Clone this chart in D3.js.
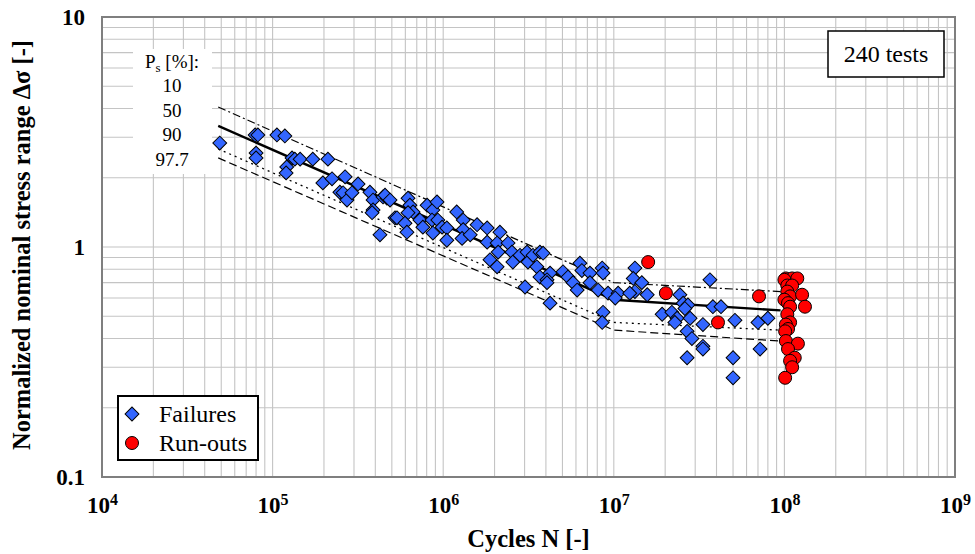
<!DOCTYPE html>
<html>
<head>
<meta charset="utf-8">
<script src="https://cdn.jsdelivr.net/npm/d3@7"></script>
<style>
  body { margin: 0; background: #fff; }
  svg { font-family: "Liberation Serif", "Times New Roman", serif; }
</style>
</head>
<body>
<div id="chart"></div>
<script>
// tick values
const xDecades = [1e4, 1e5, 1e6, 1e7, 1e8, 1e9];
const yLabels = [0.1, 1, 10];
const psLabels = ["10", "50", "90", "97.7"];

// failures [N, normalized stress range]
const failures = [
  [4.9e4, 2.83], [7.9e4, 3.07], [8.2e4, 3.07], [1.06e5, 3.07], [1.18e5, 3.04],
  [8.0e4, 2.56], [8.0e4, 2.44], [1.30e5, 2.44], [1.35e5, 2.41], [1.45e5, 2.41],
  [1.72e5, 2.41], [2.11e5, 2.41], [1.21e5, 2.23], [1.20e5, 2.10], [1.97e5, 1.90],
  [2.23e5, 1.98], [2.66e5, 2.02], [3.17e5, 1.88], [2.48e5, 1.73], [2.59e5, 1.72],
  [2.73e5, 1.60], [2.92e5, 1.72], [3.72e5, 1.73], [3.88e5, 1.60], [3.88e5, 1.45],
  [3.83e5, 1.41], [4.44e5, 1.65], [4.68e5, 1.63], [5.22e5, 1.34], [4.26e5, 1.13],
  [4.56e5, 1.68], [4.88e5, 1.60], [6.22e5, 1.63], [6.38e5, 1.52], [6.66e5, 1.42],
  [6.22e5, 1.41], [5.36e5, 1.34], [5.97e5, 1.27], [6.13e5, 1.16], [7.3e5, 1.31],
  [7.6e5, 1.22], [8.05e5, 1.52], [8.7e5, 1.45], [9.2e5, 1.57], [8.6e5, 1.31],
  [9.3e5, 1.31], [9.85e5, 1.22], [8.7e5, 1.15], [1.05e6, 1.21], [1.05e6, 1.07],
  [1.20e6, 1.42], [1.31e6, 1.31], [1.31e6, 1.19], [1.29e6, 1.09], [1.44e6, 1.13],
  [1.58e6, 1.25], [1.81e6, 1.21], [1.81e6, 1.05], [2.15e6, 1.16], [2.07e6, 1.04],
  [2.10e6, 0.95], [1.88e6, 0.88], [2.07e6, 0.82], [2.40e6, 1.04], [2.53e6, 0.95],
  [2.56e6, 0.86], [2.82e6, 0.92], [3.10e6, 0.95], [3.14e6, 0.86], [3.36e6, 0.92],
  [3.69e6, 0.95], [3.54e6, 0.82], [3.69e6, 0.74], [4.23e6, 0.77], [3.02e6, 0.67],
  [4.06e6, 0.72], [3.85e6, 0.94], [4.06e6, 0.70], [5.04e6, 0.78], [5.39e6, 0.74],
  [6.33e6, 0.85], [6.5e6, 0.79], [5.77e6, 0.70], [6.1e6, 0.65], [7.25e6, 0.77],
  [7.25e6, 0.70], [8.55e6, 0.81], [8.65e6, 0.77], [8.1e6, 0.65], [9.25e6, 0.63],
  [1.06e7, 0.63], [1.02e7, 0.60], [8.65e6, 0.52], [8.55e6, 0.47], [1.33e7, 0.81],
  [1.30e7, 0.73], [1.46e7, 0.70], [1.33e7, 0.64], [1.24e7, 0.63], [1.57e7, 0.62],
  [4.23e6, 0.57], [1.92e7, 0.51], [2.19e7, 0.52], [2.44e7, 0.62], [2.55e7, 0.57],
  [2.72e7, 0.56], [2.61e7, 0.54], [2.35e7, 0.49], [2.28e7, 0.47], [2.80e7, 0.49],
  [3.33e7, 0.46], [2.69e7, 0.43], [2.87e7, 0.40], [3.33e7, 0.37], [2.69e7, 0.33],
  [3.66e7, 0.72], [3.81e7, 0.55], [4.25e7, 0.55], [5.13e7, 0.48], [7.0e7, 0.47],
  [8.0e7, 0.49], [3.33e7, 0.36], [5.0e7, 0.33], [7.2e7, 0.36], [5.0e7, 0.27]
];

// run-outs [N, normalized stress range]
const runouts = [
  [1.59e7, 0.86], [2.02e7, 0.63], [4.08e7, 0.47], [7.1e7, 0.61],
  [1.02e8, 0.73], [1.11e8, 0.73], [1.19e8, 0.73], [1.0e8, 0.72], [1.04e8, 0.68],
  [1.11e8, 0.68], [1.04e8, 0.64], [1.08e8, 0.61], [1.27e8, 0.62], [1.0e8, 0.59],
  [1.05e8, 0.57], [1.32e8, 0.55], [1.08e8, 0.55], [1.04e8, 0.51], [1.08e8, 0.47],
  [1.02e8, 0.46], [1.05e8, 0.44], [1.01e8, 0.43], [1.02e8, 0.39], [1.20e8, 0.38],
  [1.05e8, 0.36], [1.15e8, 0.33], [1.08e8, 0.32], [1.11e8, 0.30], [1.01e8, 0.27]
];

// S-N curves for survival probabilities [N, stress]
const curve10 = [[4.8e4, 4.06], [1e7, 0.70], [9.5e7, 0.64]];
const curve50 = [[4.8e4, 3.36], [1e7, 0.59], [9.5e7, 0.53]];
const curve90 = [[4.8e4, 2.67], [1e7, 0.47], [9.5e7, 0.435]];
const curve977 = [[4.8e4, 2.44], [1e7, 0.435], [9.5e7, 0.39]];

const width = 975, height = 554;
const margin = { top: 17, right: 20, bottom: 77, left: 102 };

const svg = d3.select("#chart").append("svg")
  .attr("width", width)
  .attr("height", height);

const x = d3.scaleLog().domain([1e4, 1e9]).range([margin.left, width - margin.right]);
const y = d3.scaleLog().domain([0.1, 10]).range([height - margin.bottom, margin.top]);

// grid
const grid = svg.append("g").attr("stroke", "#c4c4c4").attr("stroke-width", 1.1);
grid.selectAll(".vg").data(x.ticks(20)).join("line")
  .attr("x1", d => x(d)).attr("x2", d => x(d))
  .attr("y1", y(0.1)).attr("y2", y(10));
grid.selectAll(".hg").data(y.ticks(20)).join("line")
  .attr("y1", d => y(d)).attr("y2", d => y(d))
  .attr("x1", x(1e4)).attr("x2", x(1e9));

// probability legend (text on white)
const pl = svg.append("g");
pl.append("rect").attr("x", 133).attr("y", 49).attr("width", 79).attr("height", 125).attr("fill", "#fff");
const pt = pl.append("text").attr("x", 172).attr("y", 68).attr("text-anchor", "middle")
  .attr("font-size", 19);
pt.append("tspan").text("P");
pt.append("tspan").attr("font-size", 13).attr("dy", 4).text("s");
pt.append("tspan").attr("dy", -4).text(" [%]:");
pl.selectAll(".ps").data(psLabels).join("text")
  .attr("x", 172).attr("y", (d, i) => 92 + i * 24.5)
  .attr("text-anchor", "middle").attr("font-size", 19)
  .text(d => d);

// curves
const line = d3.line().x(d => x(d[0])).y(d => y(d[1]));
const curves = [
  { data: curve10, w: 1.2, dash: "8,3,2,3" },
  { data: curve50, w: 2.4, dash: null },
  { data: curve90, w: 1.3, dash: "2,4" },
  { data: curve977, w: 1.2, dash: "8,4" }
];
svg.append("g").selectAll("path").data(curves).join("path")
  .attr("d", d => line(d.data))
  .attr("fill", "none")
  .attr("stroke", "#000")
  .attr("stroke-width", d => d.w)
  .attr("stroke-dasharray", d => d.dash);

// points
const diamond = d3.symbol().type(d3.symbolSquare).size(96);
svg.append("g").selectAll("path").data(failures).join("path")
  .attr("d", diamond)
  .attr("transform", d => `translate(${x(d[0])},${y(d[1])}) rotate(45)`)
  .attr("fill", "#3366ff")
  .attr("stroke", "#000")
  .attr("stroke-width", 1);

svg.append("g").selectAll("circle").data(runouts).join("circle")
  .attr("cx", d => x(d[0])).attr("cy", d => y(d[1]))
  .attr("r", 6.5)
  .attr("fill", "#ff0000")
  .attr("stroke", "#000")
  .attr("stroke-width", 1);

// frame
svg.append("rect")
  .attr("x", x(1e4)).attr("y", y(10))
  .attr("width", x(1e9) - x(1e4)).attr("height", y(0.1) - y(10))
  .attr("fill", "none").attr("stroke", "#7f7f7f").attr("stroke-width", 2);

// x axis
const xAxis = svg.append("g")
  .attr("transform", `translate(0,${y(0.1)})`)
  .call(d3.axisBottom(x).tickValues(xDecades).tickSize(0).tickPadding(15).tickFormat(""));
xAxis.select(".domain").remove();
xAxis.selectAll(".tick text")
  .attr("font-family", "Liberation Serif, serif")
  .attr("font-weight", "bold")
  .attr("font-size", 23)
  .attr("fill", "#000")
  .attr("dy", "0.9em")
  .each(function (d) {
    const t = d3.select(this);
    t.append("tspan").text("10");
    t.append("tspan").attr("font-size", 16).attr("dy", -8).text(Math.round(Math.log10(d)));
  });

// y axis
const yAxis = svg.append("g")
  .attr("transform", `translate(${x(1e4)},0)`)
  .call(d3.axisLeft(y).tickValues(yLabels).tickSize(0).tickPadding(17).tickFormat(d => String(d)));
yAxis.select(".domain").remove();
yAxis.selectAll(".tick text")
  .attr("font-family", "Liberation Serif, serif")
  .attr("font-weight", "bold")
  .attr("font-size", 23)
  .attr("fill", "#000");

// axis titles
svg.append("text")
  .attr("x", (x(1e4) + x(1e9)) / 2).attr("y", 547)
  .attr("text-anchor", "middle")
  .attr("font-weight", "bold").attr("font-size", 24.5)
  .text("Cycles N [-]");

svg.append("text")
  .attr("transform", `translate(30,${(y(0.1) + y(10)) / 2 - 2}) rotate(-90)`)
  .attr("text-anchor", "middle")
  .attr("font-weight", "bold").attr("font-size", 24.5)
  .text("Normalized nominal stress range Δσ [-]");

// 240 tests box
svg.append("rect").attr("x", 828).attr("y", 31).attr("width", 116).attr("height", 46)
  .attr("fill", "#fff").attr("stroke", "#000").attr("stroke-width", 1.5);
svg.append("text").attr("x", 886).attr("y", 62).attr("text-anchor", "middle")
  .attr("font-size", 24).text("240 tests");

// markers legend
const lg = svg.append("g");
lg.append("rect").attr("x", 118).attr("y", 396).attr("width", 140).attr("height", 64)
  .attr("fill", "#fff").attr("stroke", "#000").attr("stroke-width", 2);
lg.append("path").attr("d", diamond)
  .attr("transform", "translate(132,414) rotate(45)")
  .attr("fill", "#3366ff").attr("stroke", "#000");
lg.append("circle").attr("cx", 132).attr("cy", 443).attr("r", 6.5)
  .attr("fill", "#ff0000").attr("stroke", "#000");
lg.append("text").attr("x", 159).attr("y", 422).attr("font-size", 24).text("Failures");
lg.append("text").attr("x", 159).attr("y", 451).attr("font-size", 24).text("Run-outs");
</script>
</body>
</html>
